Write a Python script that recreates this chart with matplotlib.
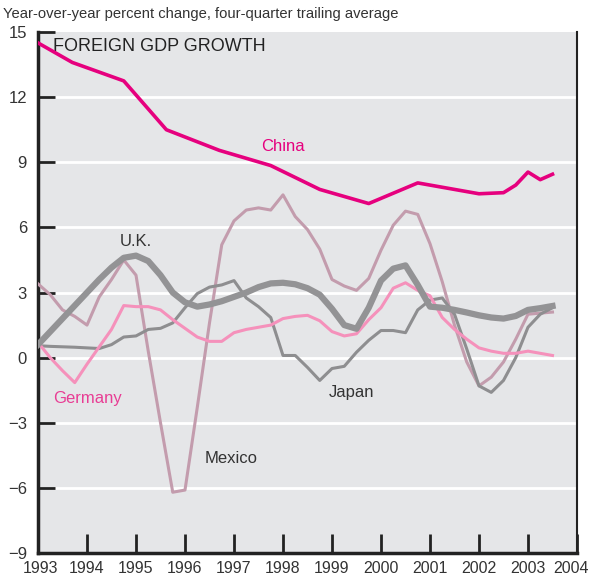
import numpy as np
import matplotlib
matplotlib.use('Agg')
import matplotlib.pyplot as plt
import matplotlib.transforms as mtransforms

plt.rcParams['font.family'] = ['Liberation Sans', 'DejaVu Sans']

# quarterly dates, 1993Q1 .. 2003Q3
quarters = np.arange(1993.0, 2003.51, 0.25)

uk = [0.6, 1.2, 1.8, 2.4, 3.0, 3.6, 4.15, 4.6, 4.7, 4.45, 3.8, 3.0,
      2.55, 2.35, 2.45, 2.6, 2.8, 3.0, 3.25, 3.42, 3.45, 3.38, 3.2, 2.9,
      2.25, 1.5, 1.33, 2.3, 3.55, 4.1, 4.25, 3.35, 2.35, 2.3, 2.2, 2.08,
      1.95, 1.85, 1.8, 1.92, 2.2, 2.28, 2.38]
japan = [0.55, 0.52, 0.5, 0.48, 0.45, 0.42, 0.6, 0.95, 1.0, 1.3, 1.35, 1.6,
         2.3, 2.95, 3.25, 3.35, 3.55, 2.75, 2.35, 1.85, 0.1, 0.1, -0.45, -1.05,
         -0.5, -0.4, 0.25, 0.8, 1.25, 1.25, 1.15, 2.2, 2.65, 2.75, 2.0, 0.4,
         -1.3, -1.6, -1.05, 0.0, 1.4, 2.0, 2.3]
mexico = [3.4, 2.9, 2.2, 1.9, 1.5, 2.8, 3.6, 4.5, 3.8, 0.3, -3.0, -6.2,
          -6.1, -2.3, 1.6, 5.2, 6.3, 6.8, 6.9, 6.8, 7.5, 6.5, 5.9, 5.0,
          3.6, 3.3, 3.1, 3.65, 4.95, 6.1, 6.75, 6.6, 5.25, 3.5, 1.5, -0.2,
          -1.3, -0.9, -0.2, 0.85, 2.0, 2.05, 2.1]
germany = [0.7, 0.0, -0.6, -1.15, -0.3, 0.5, 1.3, 2.4, 2.35, 2.35, 2.2, 1.75,
           1.35, 0.95, 0.75, 0.75, 1.15, 1.3, 1.4, 1.5, 1.8, 1.9, 1.95, 1.7,
           1.2, 1.0, 1.1, 1.75, 2.3, 3.2, 3.45, 3.1, 2.85, 1.85, 1.3, 0.85,
           0.45, 0.3, 0.2, 0.2, 0.3, 0.2, 0.1]

china_dates = [1993.0, 1993.7, 1994.75, 1995.62, 1996.7, 1997.75, 1998.75,
               1999.75, 2000.75, 2002.0, 2002.5, 2002.75, 2003.0, 2003.25, 2003.5]
china = [14.5, 13.6, 12.75, 10.5, 9.55, 8.85, 7.75,
         7.1, 8.05, 7.55, 7.6, 7.95, 8.55, 8.2, 8.45]

years = list(range(1993, 2005))
yticks = list(range(-9, 16, 3))

fig = plt.figure(figsize=(5.91, 5.86), dpi=100)
ax = fig.add_axes([0.0643, 0.0563, 0.912, 0.889])
ax.set_facecolor('#e5e6e8')

for y in yticks[1:-1]:
    ax.axhline(y, color='white', lw=2, zorder=1)

ax.plot(quarters, mexico, color='#c39cad', lw=2.2, zorder=3)
ax.plot(quarters, japan, color='#8e8e90', lw=2.2, zorder=3)
ax.plot(quarters, germany, color='#f591bb', lw=2.2, zorder=3)
ax.plot(quarters, uk, color='#939395', lw=4.5, zorder=4)
ax.plot(china_dates, china, color='#e6007e', lw=2.6, zorder=5)

ax.text(1998.0, 9.75, 'China', color='#e6007e', fontsize=12, ha='center', va='center')
ax.text(1995.0, 5.35, 'U.K.', color='#333333', fontsize=12, ha='center', va='center')
ax.text(1994.0, -1.9, 'Germany', color='#e83d94', fontsize=12, ha='center', va='center')
ax.text(1999.4, -1.6, 'Japan', color='#333333', fontsize=12, ha='center', va='center')
ax.text(1996.95, -4.65, 'Mexico', color='#333333', fontsize=12, ha='center', va='center')
ax.text(1993.3, 14.35, 'FOREIGN GDP GROWTH', color='#222222', fontsize=13,
        ha='left', va='center')

fig.text(0.005, 0.976, 'Year-over-year percent change, four-quarter trailing average',
         color='#333333', fontsize=10.6, ha='left', va='center')

ax.set_xlim(1993, 2004)
ax.set_ylim(-9, 15)
ax.set_xticks(years)
ax.set_xticklabels([str(y) for y in years])
ax.set_yticks(yticks)
ax.set_yticklabels([str(y).replace('-', '\u2212') for y in yticks])
ax.tick_params(axis='x', direction='in', length=14, width=2, color='#222222',
               labelsize=11.5, labelcolor='#333333', pad=6)
ax.tick_params(axis='y', direction='in', length=12, width=2, color='#222222',
               labelsize=12, labelcolor='#333333', pad=8)

# nudge the edge labels so they stay inside the figure
for lab, dx in [(ax.get_xticklabels()[0], 2), (ax.get_xticklabels()[-1], -6)]:
    lab.set_transform(lab.get_transform() +
                      mtransforms.ScaledTranslation(dx / 100, 0, fig.dpi_scale_trans))

ax.spines['top'].set_visible(False)
ax.spines['left'].set_linewidth(2.5)
ax.spines['bottom'].set_linewidth(2.5)
ax.spines['right'].set_linewidth(1.5)
for s in ['left', 'bottom', 'right']:
    ax.spines[s].set_color('#222222')

fig.savefig('out.png', dpi=100)
